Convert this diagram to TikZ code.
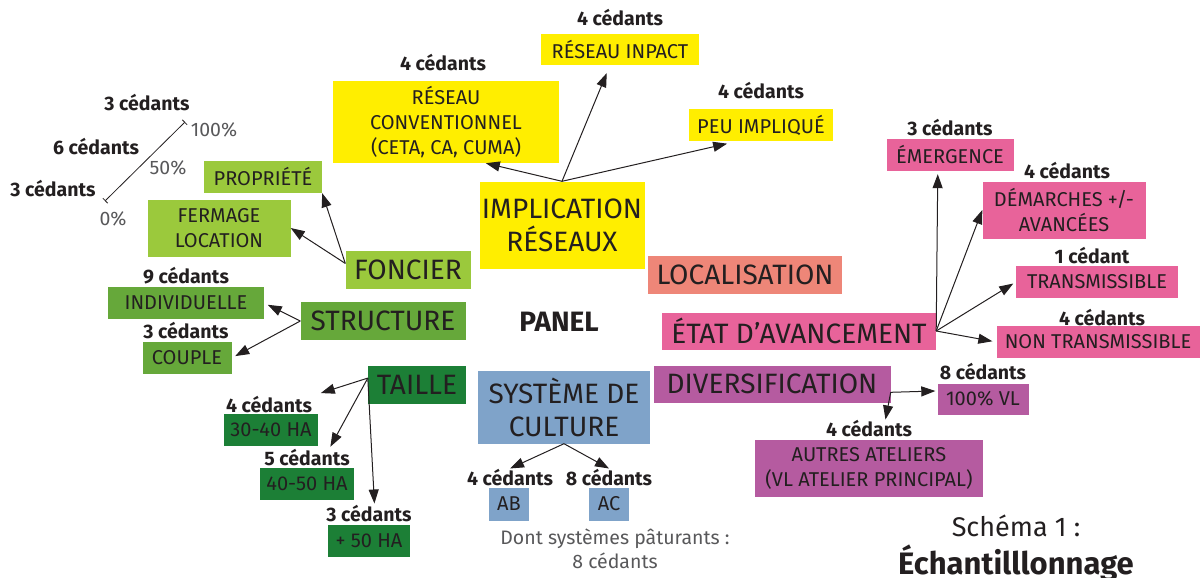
\documentclass[tikz,border=0pt]{standalone}
\usepackage{fontspec}
\setmainfont{Fira Sans}
\usepackage{tikz}
\usetikzlibrary{arrows.meta}
\definecolor{encre}{HTML}{231F20}
\definecolor{grisclair}{HTML}{58585A}
\definecolor{jaune}{HTML}{FFEE00}
\definecolor{vertclair}{HTML}{9BC93C}
\definecolor{vertmoyen}{HTML}{66A83A}
\definecolor{vertfonce}{HTML}{1C7F36}
\definecolor{saumon}{HTML}{EE8678}
\definecolor{rose}{HTML}{E8639A}
\definecolor{violet}{HTML}{B55BA0}
\definecolor{bleu}{HTML}{7FA3C9}
\tikzset{
  boite/.style={inner sep=0pt, align=center, text=encre},
  titre/.style={boite, font=\fontsize{28}{33}\selectfont},
  sousboite/.style={boite, font=\fontsize{20}{25}\selectfont},
  cedants/.style={inner sep=1pt, text=encre, font=\bfseries\fontsize{19.5}{21}\selectfont},
  gris/.style={inner sep=1pt, text=grisclair, font=\fontsize{19.5}{24}\selectfont, align=center},
  fleche/.style={encre, line width=1pt, -{Triangle[length=14pt,width=10pt]}},
}
\begin{document}
\begin{tikzpicture}[x=1pt,y=-1pt]
\useasboundingbox (0,0) rectangle (1203,578);
% echelle foncier
\coordinate (zero) at (105,201);
\coordinate (cent) at (185,122);
\draw[encre, line width=0.8pt, {Bar[width=7pt]}-{Bar[width=7pt]}] (zero) -- (cent);
\node[gris] (pc100) at (214,130) {100\%};
\node[gris] (pc50) at (168,168) {50\%};
\node[gris] (pc0) at (113,219) {0\%};
\node[cedants] (e3a) at (147,103) {3 cédants};
\node[cedants] (e6) at (96,147) {6 cédants};
\node[cedants] (e3b) at (53,189) {3 cédants};
% implication reseaux
\node[titre, fill=jaune, minimum width=165, minimum height=87] (impl) at (562,225) {IMPLICATION\\RÉSEAUX};
\node[sousboite, fill=jaune, minimum width=226, minimum height=82] (conv) at (446,122) {RÉSEAU\\CONVENTIONNEL\\(CETA, CA, CUMA)};
\node[sousboite, fill=jaune, minimum width=158, minimum height=31] (inpact) at (620,50) {RÉSEAU INPACT};
\node[sousboite, fill=jaune, minimum width=144, minimum height=32] (peu) at (761,125) {PEU IMPLIQUÉ};
\node[cedants] (cconv) at (443,63) {4 cédants};
\node[cedants] (cinpact) at (620,18) {4 cédants};
\node[cedants] (cpeu) at (761,91) {4 cédants};
\draw[fleche] (impl.north) -- (conv.-46);
\draw[fleche, shorten >=8pt] (impl.north) -- (inpact.-123);
\draw[fleche, shorten >=11pt] (impl.north) -- (peu.-145);
% foncier
\node[titre, fill=vertclair, minimum width=125, minimum height=38] (foncier) at (408,270) {FONCIER};
\node[sousboite, fill=vertclair, minimum width=118, minimum height=32] (prop) at (263,177) {PROPRIÉTÉ};
\node[sousboite, fill=vertclair, minimum width=143, minimum height=57] (ferm) at (219,228) {FERMAGE\\LOCATION};
\draw[fleche] (foncier.174) -- (prop.south east);
\draw[fleche] (foncier.174) -- (ferm.east);
% structure
\node[titre, fill=vertmoyen, minimum width=165, minimum height=38] (struct) at (383,321) {STRUCTURE};
\node[sousboite, fill=vertmoyen, minimum width=156, minimum height=32] (indiv) at (186,303) {INDIVIDUELLE};
\node[sousboite, fill=vertmoyen, minimum width=89, minimum height=32] (couple) at (187,358) {COUPLE};
\node[cedants] (cindiv) at (186,276) {9 cédants};
\node[cedants] (ccouple) at (186,331) {3 cédants};
\draw[fleche, shorten >=4pt] (struct.west) -- (indiv.east);
\draw[fleche, shorten >=4pt] (struct.west) -- (couple.east);
% taille
\node[titre, fill=vertfonce, minimum width=98, minimum height=38] (taille) at (417,385) {TAILLE};
\node[sousboite, fill=vertfonce, minimum width=94, minimum height=32] (t3040) at (271,430) {30-40 HA};
\node[sousboite, fill=vertfonce, minimum width=94, minimum height=32] (t4050) at (307,484) {40-50 HA};
\node[sousboite, fill=vertfonce, minimum width=82, minimum height=32] (t50) at (369,541) {+ 50 HA};
\node[cedants] (c3040) at (269,405) {4 cédants};
\node[cedants] (c4050) at (307,458) {5 cédants};
\node[cedants] (c50) at (369,514) {3 cédants};
\draw[fleche, shorten >=8pt] (taille.172) -- (c3040.north east);
\draw[fleche, shorten >=2pt] (taille.172) -- (c4050.23);
\draw[fleche, shorten >=1pt] (taille.172) -- (c50.60);
% panel
\node[inner sep=1pt, text=encre, font=\bfseries\fontsize{28}{30}\selectfont] (panel) at (559,322) {PANEL};
% systeme de culture
\node[titre, fill=bleu, minimum width=172, minimum height=73] (syst) at (564,407) {SYSTÈME DE\\CULTURE};
\node[sousboite, fill=bleu, minimum width=40, minimum height=33] (ab) at (509,504) {AB};
\node[sousboite, fill=bleu, minimum width=40, minimum height=33] (ac) at (609,504) {AC};
\node[cedants] (cab) at (510,478) {4 cédants};
\node[cedants] (cac) at (609,478) {8 cédants};
\draw[fleche] (syst.south) -- (cab.north);
\draw[fleche] (syst.south) -- (cac.north);
\node[gris] (pature) at (615,549) {Dont systèmes pâturants :\\8 cédants};
% localisation
\node[titre, fill=saumon, minimum width=194, minimum height=38] (loc) at (745,275) {LOCALISATION};
% etat d'avancement
\node[titre, fill=rose, minimum width=274, minimum height=37] (etat) at (799,331) {ÉTAT D’AVANCEMENT};
\node[sousboite, fill=rose, minimum width=127, minimum height=32] (emer) at (950,155) {ÉMERGENCE};
\node[sousboite, fill=rose, minimum width=163, minimum height=57] (dem) at (1064,210) {DÉMARCHES +/-\\AVANCÉES};
\node[sousboite, fill=rose, minimum width=162, minimum height=32] (trans) at (1097,282) {TRANSMISSIBLE};
\node[sousboite, fill=rose, minimum width=203, minimum height=32] (nontrans) at (1098,342) {NON TRANSMISSIBLE};
\node[cedants] (cemer) at (950,128) {3 cédants};
\node[cedants] (cdem) at (1067,171) {4 cédants};
\node[cedants] (ctrans) at (1092,256) {1 cédant};
\node[cedants] (cnontrans) at (1102,318) {4 cédants};
\draw[fleche, shorten >=3pt] (etat.east) -- (emer.-127);
\draw[fleche] (etat.east) -- (dem.west);
\draw[fleche, shorten >=3pt] (etat.east) -- (trans.west);
\draw[fleche, shorten >=4pt] (etat.east) -- (nontrans.west);
% diversification
\node[titre, fill=violet, minimum width=237, minimum height=37] (div) at (772,384) {DIVERSIFICATION};
\node[sousboite, fill=violet, minimum width=91, minimum height=31] (vl) at (983,399) {100\% VL};
\node[sousboite, fill=violet, minimum width=228, minimum height=57] (autres) at (869,468) {AUTRES ATELIERS\\(VL ATELIER PRINCIPAL)};
\node[cedants] (cvl) at (983,372) {8 cédants};
\node[cedants] (cautres) at (869,429) {4 cédants};
\draw[fleche, shorten >=2pt] (div.-4) -- (vl.170);
\draw[fleche] (div.-4) -- (cautres.30);
% titre
\node[inner sep=1pt, text=encre, font=\fontsize{27}{29}\selectfont] (schema) at (1016,526) {Schéma 1 :};
\node[inner sep=1pt, text=encre, font=\bfseries\fontsize{31}{33}\selectfont, anchor=base] (echant) at (1016,574) {Échantilllonnage};
\end{tikzpicture}
\end{document}
